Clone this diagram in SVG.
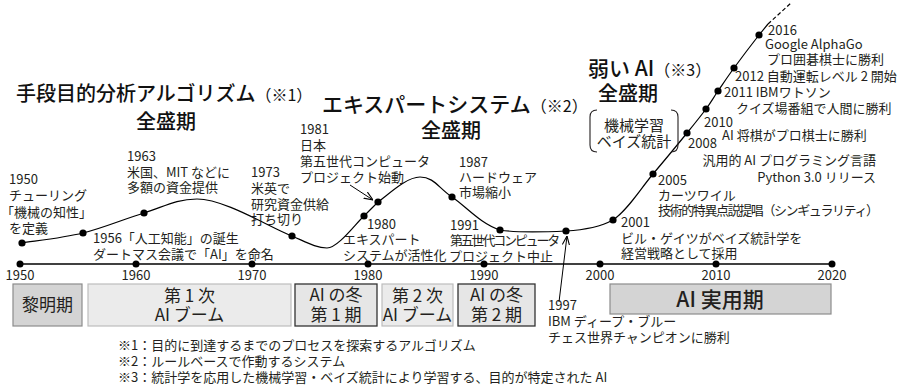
<svg xmlns="http://www.w3.org/2000/svg" width="902" height="388" viewBox="0 0 902 388">
<defs>
<style>
text{font-family:"Noto Sans CJK JP","Noto Sans",sans-serif;fill:#231f20}
.t{font-size:13px}
.h{font-size:20px;font-weight:500;fill:#111}
.p{font-size:16px;font-weight:400}
.m{text-anchor:middle}
.e{text-anchor:end}
.n{font-size:15px;text-anchor:middle}
.b{font-size:17px;text-anchor:middle}
.dot{fill:#000}
.ax{stroke:#000;stroke-width:1.3;fill:none}
.cv{stroke:#000;stroke-width:1.2;fill:none}
.ar{stroke:#000;stroke-width:1;fill:none;marker-end:url(#ah)}
.lt{fill:#ebebeb;stroke:#bdbdbd;stroke-width:1.2}
.dk{fill:#d4d4d4;stroke:#8c8c8c;stroke-width:1.2}
.wn{fill:#e6e6e6;stroke:#333;stroke-width:1.3}
</style>
<marker id="ah" viewBox="0 0 10 10" refX="10" refY="5" markerWidth="9" markerHeight="9" orient="auto" markerUnits="userSpaceOnUse"><path d="M0,1 L10,5 L0,9" fill="none" stroke="#000" stroke-width="1.2"/></marker>
</defs>

<g id="timeline">
<line class="ax" x1="20" y1="264" x2="832" y2="264"/>
<g class="dot">
<circle cx="20" cy="264" r="3.5"/><circle cx="136" cy="264" r="3.5"/><circle cx="252" cy="264" r="3.5"/><circle cx="368" cy="264" r="3.5"/><circle cx="484" cy="264" r="3.5"/><circle cx="600" cy="264" r="3.5"/><circle cx="716" cy="264" r="3.5"/><circle cx="832" cy="264" r="3.5"/>
</g>
<text class="t m" x="20" y="280">1950</text><text class="t m" x="136" y="280">1960</text><text class="t m" x="252" y="280">1970</text><text class="t m" x="368" y="280">1980</text><text class="t m" x="484" y="280">1990</text><text class="t m" x="600" y="280">2000</text><text class="t m" x="716" y="280">2010</text><text class="t m" x="832" y="280">2020</text>
</g>

<g id="connectors">
<path class="cv" d="M22,243 C32,241.3 62.7,238 83,233 C103.3,228 125,218.7 144,213 C163,207.3 175,199 197,199 C225,199 270.3,227.8 292,236 C306,242 316,248 327,248 C338,248 355.5,223.7 364,216 C368.7,211.3 373.3,206.7 378,202 C387.3,195.5 406,177 420,177 C434,177 438.7,188.2 452,197 C465.3,205.8 481,224.3 500,230 C515,232.5 545,232 566,231 C584,230 601,226.5 613,220 C627.5,210.5 640.7,188.5 653,174 C665.3,159.5 678.2,143.8 687,133 C695.8,122.2 700.8,116 706,109 C711.2,102 713.3,97.8 718,91 C722.7,84.2 727.2,77.3 734,68 C740.8,58.7 753.3,42.3 759,35 L768,24"/>
<path class="cv" d="M768,24 L791,3" stroke-dasharray="4 2.5"/>
<g class="dot">
<circle cx="22" cy="243" r="3.6"/><circle cx="83" cy="233" r="3.6"/><circle cx="144" cy="213" r="3.6"/><circle cx="292" cy="236" r="3.6"/><circle cx="364" cy="216" r="3.6"/><circle cx="378" cy="202" r="3.6"/><circle cx="452" cy="197" r="3.6"/><circle cx="500" cy="230" r="3.6"/><circle cx="566" cy="231" r="3.6"/><circle cx="613" cy="220" r="3.6"/><circle cx="653" cy="174" r="3.6"/><circle cx="687" cy="133" r="3.6"/><circle cx="706" cy="109" r="3.6"/><circle cx="718" cy="91" r="3.6"/><circle cx="734" cy="68" r="3.6"/><circle cx="759" cy="35" r="3.6"/>
</g>
<line class="ar" x1="350" y1="185" x2="373" y2="200"/>
<line class="ar" x1="559" y1="302" x2="567" y2="236"/>
</g>

<g id="title-means-end">
<text class="h" x="16" y="101">手段目的分析アルゴリズム<tspan class="p">（※1）</tspan></text>
<text class="h m" x="166" y="129">全盛期</text>
</g>
<g id="title-expert">
<text class="h" x="322" y="112" style="font-size:21px">エキスパートシステム<tspan class="p">（※2）</tspan></text>
<text class="h m" x="451" y="138">全盛期</text>
</g>
<g id="title-weak-ai">
<text class="h" x="588" y="76" style="font-size:21px">弱い AI<tspan class="p">（※3）</tspan></text>
<text class="h m" x="628" y="101">全盛期</text>
</g>
<g id="ml-bayes">
<path d="M597,110 Q590,110 590,117 L590,145 Q590,152 597,152" fill="none" stroke="#231f20" stroke-width="1.1"/>
<path d="M671,110 Q678,110 678,117 L678,145 Q678,152 671,152" fill="none" stroke="#231f20" stroke-width="1.1"/>
<text class="n" x="634" y="131">機械学習</text>
<text class="n" x="634" y="147">ベイズ統計</text>
</g>

<g id="ev1950">
<text class="t" x="9" y="184">1950</text>
<text class="t" x="9" y="200">チューリング</text>
<text class="t" x="1" y="217">「機械の知性」</text>
<text class="t" x="9" y="233">を定義</text>
</g>
<g id="ev1956">
<text class="t" x="93" y="243">1956「人工知能」の誕生</text>
<text class="t" x="93" y="259">ダートマス会議で「AI」を命名</text>
</g>
<g id="ev1963">
<text class="t" x="127" y="161">1963</text>
<text class="t" x="127" y="177">米国、MIT などに</text>
<text class="t" x="127" y="192">多額の資金提供</text>
</g>
<g id="ev1973">
<text class="t" x="251" y="177">1973</text>
<text class="t" x="251" y="193">米英で</text>
<text class="t" x="251" y="209">研究資金供給</text>
<text class="t" x="251" y="224">打ち切り</text>
</g>
<g id="ev1980">
<text class="t" x="367" y="229">1980</text>
<text class="t" x="343" y="244">エキスパート</text>
<text class="t" x="343" y="260">システムが活性化</text>
</g>
<g id="ev1981">
<text class="t" x="300" y="134">1981</text>
<text class="t" x="300" y="150">日本</text>
<text class="t" x="300" y="166">第五世代コンピュータ</text>
<text class="t" x="300" y="182">プロジェクト始動</text>
</g>
<g id="ev1987">
<text class="t" x="459" y="167">1987</text>
<text class="t" x="459" y="182">ハードウェア</text>
<text class="t" x="459" y="197">市場縮小</text>
</g>
<g id="ev1991">
<text class="t" x="450" y="230">1991</text>
<text class="t" x="450" y="245" letter-spacing="-2.2">第五世代コンピュータ</text>
<text class="t" x="449" y="261">プロジェクト中止</text>
</g>
<g id="ev1997">
<text class="t" x="548" y="310">1997</text>
<text class="t" x="548" y="326">IBM ディープ・ブルー</text>
<text class="t" x="548" y="342">チェス世界チャンピオンに勝利</text>
</g>
<g id="ev2001">
<text class="t" x="621" y="227">2001</text>
<text class="t" x="621" y="243">ビル・ゲイツがベイズ統計学を</text>
<text class="t" x="621" y="258">経営戦略として採用</text>
</g>
<g id="ev2005">
<text class="t" x="658" y="185">2005</text>
<text class="t" x="658" y="200">カーツワイル</text>
<text class="t" x="658" y="215" letter-spacing="-1.4">技術的特異点説提唱（シンギュラリティ）</text>
</g>
<g id="ev2008">
<text class="t" x="688" y="148">2008</text>
<text class="t e" x="876" y="165">汎用的 AI プログラミング言語</text>
<text class="t e" x="876" y="182">Python 3.0 リリース</text>
</g>
<g id="ev2010">
<text class="t" x="704" y="127">2010</text>
<text class="t" x="722" y="140">AI 将棋がプロ棋士に勝利</text>
</g>
<g id="ev2011">
<text class="t" x="724" y="97">2011 IBMワトソン</text>
<text class="t" x="736" y="113">クイズ場番組で人間に勝利</text>
</g>
<g id="ev2012">
<text class="t" x="735" y="81">2012 自動運転レベル 2 開始</text>
</g>
<g id="ev2016">
<text class="t" x="768" y="35">2016</text>
<text class="t" x="765" y="49">Google AlphaGo</text>
<text class="t" x="767" y="64">プロ囲碁棋士に勝利</text>
</g>

<g id="p-dawn"><rect class="dk" x="13" y="284" width="69" height="42"/><text class="b" x="47.5" y="311">黎明期</text></g>
<g id="p-boom1"><rect class="lt" x="88" y="284" width="203" height="42"/><text class="b" x="189.5" y="302">第 1 次</text><text class="b" x="189.5" y="321">AI ブーム</text></g>
<g id="p-winter1"><rect class="wn" x="295" y="284" width="82" height="42"/><text class="b" x="336" y="301">AI の冬</text><text class="b" x="336" y="321">第 1 期</text></g>
<g id="p-boom2"><rect class="lt" x="382" y="284" width="71" height="42"/><text class="b" x="417.5" y="302">第 2 次</text><text class="b" x="417.5" y="321">AI ブーム</text></g>
<g id="p-winter2"><rect class="wn" x="458" y="284" width="77" height="42"/><text class="b" x="496.5" y="301">AI の冬</text><text class="b" x="496.5" y="321">第 2 期</text></g>
<g id="p-practical"><rect class="dk" x="610" y="284" width="221" height="30"/><text class="b" x="720" y="307" style="font-size:21px;font-weight:500">AI 実用期</text></g>

<g id="notes">
<text class="t" x="118" y="350">※1：目的に到達するまでのプロセスを探索するアルゴリズム</text>
<text class="t" x="118" y="366">※2：ルールベースで作動するシステム</text>
<text class="t" x="118" y="382">※3：統計学を応用した機械学習・ベイズ統計により学習する、目的が特定された AI</text>
</g>
</svg>
